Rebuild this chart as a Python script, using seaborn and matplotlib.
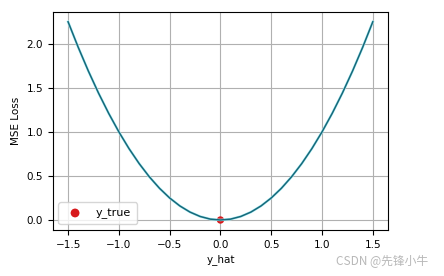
import matplotlib
matplotlib.use("Agg")
import matplotlib.pyplot as plt
import seaborn as sns
import pandas as pd

y_hat = [-1.5, -1.4, -1.3, -1.2, -1.1, -1.0, -0.9, -0.8, -0.7, -0.6, -0.5,
         -0.4, -0.3, -0.2, -0.1, 0.0, 0.1, 0.2, 0.3, 0.4, 0.5, 0.6, 0.7,
         0.8, 0.9, 1.0, 1.1, 1.2, 1.3, 1.4, 1.5]
mse_loss = [2.25, 1.96, 1.69, 1.44, 1.21, 1.0, 0.81, 0.64, 0.49, 0.36, 0.25,
            0.16, 0.09, 0.04, 0.01, 0.0, 0.01, 0.04, 0.09, 0.16, 0.25, 0.36,
            0.49, 0.64, 0.81, 1.0, 1.21, 1.44, 1.69, 1.96, 2.25]
true_x = [0.0]
true_y = [0.0]

df = pd.DataFrame({"y_hat": y_hat, "loss": mse_loss})
dt = pd.DataFrame({"x": true_x, "y": true_y})

plt.rcParams['font.size'] = 7.5
fig = plt.figure(figsize=(4.44, 2.76), dpi=100)
ax = fig.add_axes([0.119, 0.167, 0.755, 0.79])

sns.scatterplot(data=dt, x="x", y="y", ax=ax, color="#d7191c", s=28,
                edgecolor="none", label="y_true", zorder=2)
sns.lineplot(data=df, x="y_hat", y="loss", ax=ax, color="#a8eef5", linewidth=1.8,
             zorder=3, legend=False)
sns.lineplot(data=df, x="y_hat", y="loss", ax=ax, color="#17687a", linewidth=1.1,
             zorder=4, legend=False)

ax.set_xticks([-1.5, -1.0, -0.5, 0.0, 0.5, 1.0, 1.5])
ax.set_yticks([0.0, 0.5, 1.0, 1.5, 2.0])
ax.set_xlabel("y_hat", fontsize=7.5, labelpad=3)
ax.set_ylabel("MSE Loss", fontsize=7.5, labelpad=4)
ax.grid(True, color="#b0b0b0", linewidth=0.8)
ax.set_axisbelow(True)
ax.tick_params(labelsize=7.5, length=3.5, width=0.8)
for s in ax.spines.values():
    s.set_linewidth(0.8)
    s.set_color("black")
leg = ax.legend(loc="lower left", fontsize=8, frameon=True, markerscale=1.2,
                borderpad=0.5, handletextpad=0.9)

fig.text(0.965, 0.055, "CSDN @先锋小牛", ha="right", va="center", fontsize=8.5,
         color="#b8b8b8", family=["Noto Sans CJK SC", "DejaVu Sans"])

fig.savefig("out.png", dpi=100)
